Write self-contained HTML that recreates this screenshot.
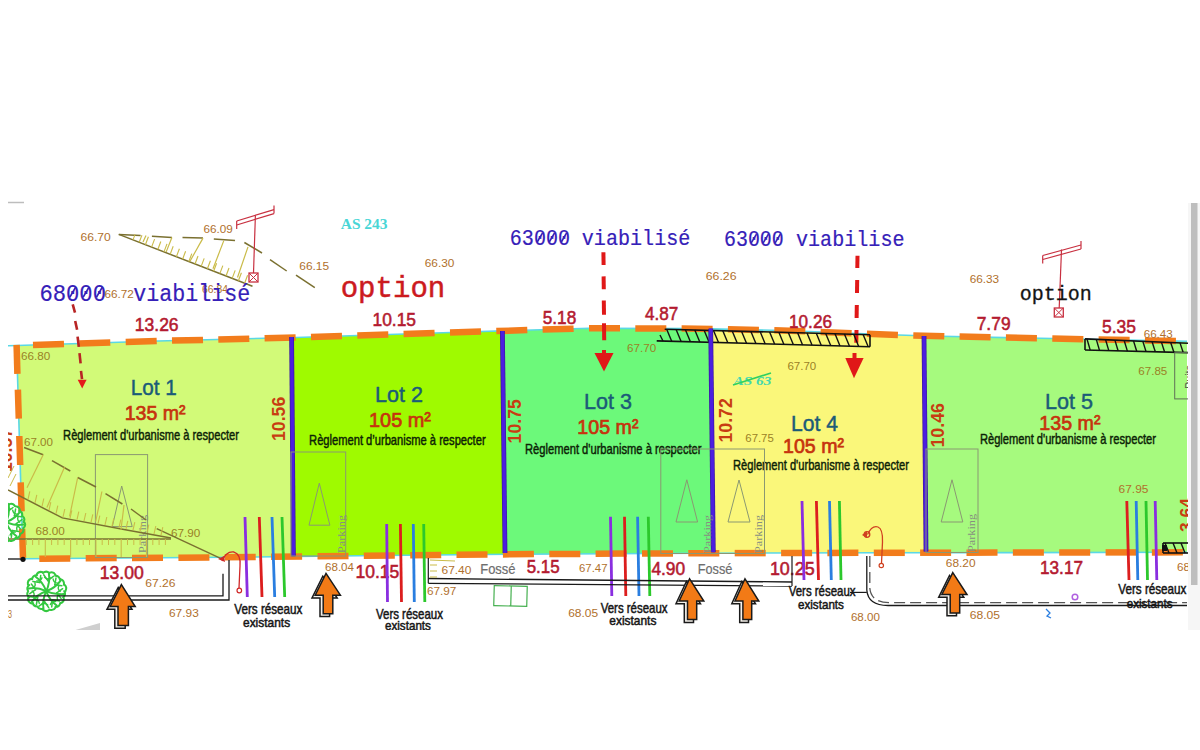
<!DOCTYPE html><html><head><meta charset="utf-8"><style>html,body{margin:0;padding:0;background:#fff;overflow:hidden}svg{display:block}</style></head><body>
<svg width="1200" height="750" viewBox="0 0 1200 750">
<rect width="1200" height="750" fill="#fff"/>
<defs><clipPath id="mc"><rect x="8" y="203" width="1180" height="427"/></clipPath></defs>
<g clip-path="url(#mc)">
<polygon points="16.6,345.5 17.0,345.5 158.0,341.0 291.6,337.6 293.4,556.5 230.0,557.3 23.0,558.8" fill="#d2fa78" />
<polygon points="291.6,337.6 296.0,337.5 466.0,332.0 502.4,330.9 505.0,554.3 380.0,555.5 293.4,556.5" fill="#9ffa00" />
<polygon points="502.4,330.9 589.0,328.2 700.0,328.6 710.7,328.8 713.3,553.2 700.0,553.2 520.0,554.2 505.0,554.3" fill="#6cf97a" />
<polygon points="710.7,328.8 790.0,330.7 883.0,334.5 924.0,335.8 926.0,552.7 880.0,552.8 713.3,553.2" fill="#faf77a" />
<polygon points="924.0,335.8 929.0,336.0 1187.0,341.3 1187.0,552.3 926.0,552.7" fill="#a6fa7e" />
<polyline points="8.0,345.8 17.0,345.5 158.0,341.0 296.0,337.5 466.0,332.0 589.0,328.2 700.0,328.6 790.0,330.7 883.0,334.5 929.0,336.0 1187.0,341.3" fill="none" stroke="#5ad8e6" stroke-width="1.6" />
<polyline points="23.0,558.8 230.0,557.3 380.0,555.5 520.0,554.2 700.0,553.2 880.0,552.8 1187.0,552.3" fill="none" stroke="#5ad8e6" stroke-width="1.6" />
<line x1="16.6" y1="345.5" x2="23.0" y2="558.8" stroke="#5ad8e6" stroke-width="1.6" />
<line x1="33.0" y1="345.0" x2="64.0" y2="344.0" stroke="#f27c1c" stroke-width="6.5" />
<line x1="79.3" y1="343.5" x2="110.3" y2="342.5" stroke="#f27c1c" stroke-width="6.5" />
<line x1="125.7" y1="342.0" x2="156.7" y2="341.0" stroke="#f27c1c" stroke-width="6.5" />
<line x1="172.0" y1="340.6" x2="203.0" y2="339.9" stroke="#f27c1c" stroke-width="6.5" />
<line x1="218.3" y1="339.5" x2="249.3" y2="338.7" stroke="#f27c1c" stroke-width="6.5" />
<line x1="264.6" y1="338.3" x2="295.6" y2="337.5" stroke="#f27c1c" stroke-width="6.5" />
<line x1="311.0" y1="337.0" x2="342.0" y2="336.0" stroke="#f27c1c" stroke-width="6.5" />
<line x1="357.3" y1="335.5" x2="388.3" y2="334.5" stroke="#f27c1c" stroke-width="6.5" />
<line x1="403.6" y1="334.0" x2="434.6" y2="333.0" stroke="#f27c1c" stroke-width="6.5" />
<line x1="450.0" y1="332.5" x2="481.0" y2="331.5" stroke="#f27c1c" stroke-width="6.5" />
<line x1="496.3" y1="331.1" x2="527.3" y2="330.1" stroke="#f27c1c" stroke-width="6.5" />
<line x1="542.6" y1="329.6" x2="573.6" y2="328.7" stroke="#f27c1c" stroke-width="6.5" />
<line x1="589.0" y1="328.2" x2="620.0" y2="328.3" stroke="#f27c1c" stroke-width="6.5" />
<line x1="635.3" y1="328.4" x2="666.3" y2="328.5" stroke="#f27c1c" stroke-width="6.5" />
<line x1="681.6" y1="328.5" x2="712.6" y2="328.9" stroke="#f27c1c" stroke-width="6.5" />
<line x1="727.9" y1="329.3" x2="758.9" y2="330.0" stroke="#f27c1c" stroke-width="6.5" />
<line x1="774.3" y1="330.3" x2="805.3" y2="331.3" stroke="#f27c1c" stroke-width="6.5" />
<line x1="820.6" y1="332.0" x2="851.6" y2="333.2" stroke="#f27c1c" stroke-width="6.5" />
<line x1="866.9" y1="333.8" x2="897.9" y2="335.0" stroke="#f27c1c" stroke-width="6.5" />
<line x1="913.3" y1="335.5" x2="944.3" y2="336.3" stroke="#f27c1c" stroke-width="6.5" />
<line x1="959.6" y1="336.6" x2="990.6" y2="337.3" stroke="#f27c1c" stroke-width="6.5" />
<line x1="1005.9" y1="337.6" x2="1036.9" y2="338.2" stroke="#f27c1c" stroke-width="6.5" />
<line x1="1052.3" y1="338.5" x2="1083.3" y2="339.2" stroke="#f27c1c" stroke-width="6.5" />
<line x1="1098.6" y1="339.5" x2="1129.6" y2="340.1" stroke="#f27c1c" stroke-width="6.5" />
<line x1="1144.9" y1="340.4" x2="1175.9" y2="341.1" stroke="#f27c1c" stroke-width="6.5" />
<line x1="39.3" y1="558.7" x2="70.3" y2="558.5" stroke="#f27c1c" stroke-width="6.5" />
<line x1="85.7" y1="558.3" x2="116.7" y2="558.1" stroke="#f27c1c" stroke-width="6.5" />
<line x1="132.0" y1="558.0" x2="163.0" y2="557.8" stroke="#f27c1c" stroke-width="6.5" />
<line x1="178.4" y1="557.7" x2="209.4" y2="557.4" stroke="#f27c1c" stroke-width="6.5" />
<line x1="224.7" y1="557.3" x2="255.7" y2="557.0" stroke="#f27c1c" stroke-width="6.5" />
<line x1="271.1" y1="556.8" x2="302.1" y2="556.4" stroke="#f27c1c" stroke-width="6.5" />
<line x1="317.5" y1="556.3" x2="348.5" y2="555.9" stroke="#f27c1c" stroke-width="6.5" />
<line x1="363.8" y1="555.7" x2="394.8" y2="555.4" stroke="#f27c1c" stroke-width="6.5" />
<line x1="410.2" y1="555.2" x2="441.2" y2="554.9" stroke="#f27c1c" stroke-width="6.5" />
<line x1="456.5" y1="554.8" x2="487.5" y2="554.5" stroke="#f27c1c" stroke-width="6.5" />
<line x1="502.9" y1="554.4" x2="533.9" y2="554.1" stroke="#f27c1c" stroke-width="6.5" />
<line x1="549.3" y1="554.0" x2="580.3" y2="553.9" stroke="#f27c1c" stroke-width="6.5" />
<line x1="595.6" y1="553.8" x2="626.6" y2="553.6" stroke="#f27c1c" stroke-width="6.5" />
<line x1="642.0" y1="553.5" x2="673.0" y2="553.4" stroke="#f27c1c" stroke-width="6.5" />
<line x1="688.3" y1="553.3" x2="719.3" y2="553.2" stroke="#f27c1c" stroke-width="6.5" />
<line x1="734.7" y1="553.1" x2="765.7" y2="553.1" stroke="#f27c1c" stroke-width="6.5" />
<line x1="781.1" y1="553.0" x2="812.1" y2="553.0" stroke="#f27c1c" stroke-width="6.5" />
<line x1="827.4" y1="552.9" x2="858.4" y2="552.8" stroke="#f27c1c" stroke-width="6.5" />
<line x1="873.8" y1="552.8" x2="904.8" y2="552.8" stroke="#f27c1c" stroke-width="6.5" />
<line x1="920.1" y1="552.7" x2="951.1" y2="552.7" stroke="#f27c1c" stroke-width="6.5" />
<line x1="966.5" y1="552.7" x2="997.5" y2="552.6" stroke="#f27c1c" stroke-width="6.5" />
<line x1="1012.9" y1="552.6" x2="1043.9" y2="552.5" stroke="#f27c1c" stroke-width="6.5" />
<line x1="1059.2" y1="552.5" x2="1090.2" y2="552.5" stroke="#f27c1c" stroke-width="6.5" />
<line x1="1105.6" y1="552.4" x2="1136.6" y2="552.4" stroke="#f27c1c" stroke-width="6.5" />
<line x1="1151.9" y1="552.4" x2="1182.9" y2="552.3" stroke="#f27c1c" stroke-width="6.5" />
<line x1="16.6" y1="344.8" x2="17.4" y2="373.8" stroke="#f27c1c" stroke-width="6.5" />
<line x1="17.9" y1="389.6" x2="18.8" y2="418.6" stroke="#f27c1c" stroke-width="6.5" />
<line x1="19.3" y1="436.0" x2="20.2" y2="465.0" stroke="#f27c1c" stroke-width="6.5" />
<line x1="20.7" y1="482.4" x2="21.6" y2="511.4" stroke="#f27c1c" stroke-width="6.5" />
<line x1="22.1" y1="528.8" x2="23.0" y2="557.8" stroke="#f27c1c" stroke-width="6.5" />
<line x1="8.0" y1="559.0" x2="23.0" y2="559.0" stroke="#111" stroke-width="1.3" />
<circle cx="23" cy="559.3" r="2.6" fill="#111"/>
<text x="130.70" y="395.20" font-family='"Liberation Sans", sans-serif' font-size="22.30" font-weight="normal" fill="#1b5b78" stroke="#1b5b78" stroke-width="0.45" textLength="46.00" lengthAdjust="spacingAndGlyphs">Lot 1</text>
<text x="124.70" y="420.30" font-family='"Liberation Sans", sans-serif' font-size="20.90" font-weight="normal" fill="#c6330e" stroke="#c6330e" stroke-width="0.7" textLength="60.90" lengthAdjust="spacingAndGlyphs">135 m²</text>
<text x="63.10" y="439.75" font-family='"Liberation Sans", sans-serif' font-size="14.60" font-weight="normal" fill="#0c2206" stroke="#0c2206" stroke-width="0.45" textLength="175.90" lengthAdjust="spacingAndGlyphs">Règlement d'urbanisme à respecter</text>
<text x="375.00" y="402.00" font-family='"Liberation Sans", sans-serif' font-size="22.30" font-weight="normal" fill="#1b5b78" stroke="#1b5b78" stroke-width="0.45" textLength="47.90" lengthAdjust="spacingAndGlyphs">Lot 2</text>
<text x="369.00" y="426.70" font-family='"Liberation Sans", sans-serif' font-size="20.90" font-weight="normal" fill="#c6330e" stroke="#c6330e" stroke-width="0.7" textLength="62.00" lengthAdjust="spacingAndGlyphs">105 m²</text>
<text x="309.10" y="445.40" font-family='"Liberation Sans", sans-serif' font-size="14.60" font-weight="normal" fill="#0c2206" stroke="#0c2206" stroke-width="0.45" textLength="176.50" lengthAdjust="spacingAndGlyphs">Règlement d’urbanisme à respecter</text>
<text x="584.00" y="409.30" font-family='"Liberation Sans", sans-serif' font-size="22.30" font-weight="normal" fill="#1b5b78" stroke="#1b5b78" stroke-width="0.45" textLength="47.90" lengthAdjust="spacingAndGlyphs">Lot 3</text>
<text x="577.30" y="434.30" font-family='"Liberation Sans", sans-serif' font-size="20.90" font-weight="normal" fill="#c6330e" stroke="#c6330e" stroke-width="0.7" textLength="61.20" lengthAdjust="spacingAndGlyphs">105 m²</text>
<text x="525.00" y="453.75" font-family='"Liberation Sans", sans-serif' font-size="14.60" font-weight="normal" fill="#0c2206" stroke="#0c2206" stroke-width="0.45" textLength="176.50" lengthAdjust="spacingAndGlyphs">Règlement d'urbanisme à respecter</text>
<text x="791.00" y="431.30" font-family='"Liberation Sans", sans-serif' font-size="22.30" font-weight="normal" fill="#1b5b78" stroke="#1b5b78" stroke-width="0.45" textLength="46.90" lengthAdjust="spacingAndGlyphs">Lot 4</text>
<text x="783.00" y="452.70" font-family='"Liberation Sans", sans-serif' font-size="20.90" font-weight="normal" fill="#c6330e" stroke="#c6330e" stroke-width="0.7" textLength="61.00" lengthAdjust="spacingAndGlyphs">105 m²</text>
<text x="733.00" y="469.75" font-family='"Liberation Sans", sans-serif' font-size="14.60" font-weight="normal" fill="#0c2206" stroke="#0c2206" stroke-width="0.45" textLength="176.00" lengthAdjust="spacingAndGlyphs">Règlement d'urbanisme à respecter</text>
<text x="1045.00" y="409.30" font-family='"Liberation Sans", sans-serif' font-size="22.30" font-weight="normal" fill="#1b5b78" stroke="#1b5b78" stroke-width="0.45" textLength="48.00" lengthAdjust="spacingAndGlyphs">Lot 5</text>
<text x="1039.30" y="430.00" font-family='"Liberation Sans", sans-serif' font-size="20.90" font-weight="normal" fill="#c6330e" stroke="#c6330e" stroke-width="0.7" textLength="61.20" lengthAdjust="spacingAndGlyphs">135 m²</text>
<text x="979.90" y="444.00" font-family='"Liberation Sans", sans-serif' font-size="14.60" font-weight="normal" fill="#0c2206" stroke="#0c2206" stroke-width="0.45" textLength="176.05" lengthAdjust="spacingAndGlyphs">Règlement d'urbanisme à respecter</text>
<text x="134.80" y="331.10" font-family='"Liberation Sans", sans-serif' font-size="18.20" font-weight="normal" fill="#b41a30" stroke="#b41a30" stroke-width="0.55" textLength="43.80" lengthAdjust="spacingAndGlyphs">13.26</text>
<text x="372.50" y="326.00" font-family='"Liberation Sans", sans-serif' font-size="18.20" font-weight="normal" fill="#b41a30" stroke="#b41a30" stroke-width="0.55" textLength="43.50" lengthAdjust="spacingAndGlyphs">10.15</text>
<text x="542.75" y="324.10" font-family='"Liberation Sans", sans-serif' font-size="18.20" font-weight="normal" fill="#b41a30" stroke="#b41a30" stroke-width="0.55" textLength="33.50" lengthAdjust="spacingAndGlyphs">5.18</text>
<text x="645.00" y="320.40" font-family='"Liberation Sans", sans-serif' font-size="18.20" font-weight="normal" fill="#b41a30" stroke="#b41a30" stroke-width="0.55" textLength="33.30" lengthAdjust="spacingAndGlyphs">4.87</text>
<text x="789.00" y="327.70" font-family='"Liberation Sans", sans-serif' font-size="18.20" font-weight="normal" fill="#b41a30" stroke="#b41a30" stroke-width="0.55" textLength="43.00" lengthAdjust="spacingAndGlyphs">10.26</text>
<text x="976.70" y="329.70" font-family='"Liberation Sans", sans-serif' font-size="18.20" font-weight="normal" fill="#b41a30" stroke="#b41a30" stroke-width="0.55" textLength="33.90" lengthAdjust="spacingAndGlyphs">7.79</text>
<text x="1102.00" y="333.00" font-family='"Liberation Sans", sans-serif' font-size="18.20" font-weight="normal" fill="#b41a30" stroke="#b41a30" stroke-width="0.55" textLength="33.90" lengthAdjust="spacingAndGlyphs">5.35</text>
<text x="99.75" y="579.00" font-family='"Liberation Sans", sans-serif' font-size="18.20" font-weight="normal" fill="#b41a30" stroke="#b41a30" stroke-width="0.55" textLength="44.00" lengthAdjust="spacingAndGlyphs">13.00</text>
<text x="355.50" y="578.25" font-family='"Liberation Sans", sans-serif' font-size="18.20" font-weight="normal" fill="#b41a30" stroke="#b41a30" stroke-width="0.55" textLength="43.75" lengthAdjust="spacingAndGlyphs">10.15</text>
<text x="526.70" y="573.30" font-family='"Liberation Sans", sans-serif' font-size="18.20" font-weight="normal" fill="#b41a30" stroke="#b41a30" stroke-width="0.55" textLength="33.00" lengthAdjust="spacingAndGlyphs">5.15</text>
<text x="651.40" y="574.60" font-family='"Liberation Sans", sans-serif' font-size="18.20" font-weight="normal" fill="#b41a30" stroke="#b41a30" stroke-width="0.55" textLength="33.80" lengthAdjust="spacingAndGlyphs">4.90</text>
<text x="769.90" y="574.60" font-family='"Liberation Sans", sans-serif' font-size="18.20" font-weight="normal" fill="#b41a30" stroke="#b41a30" stroke-width="0.55" textLength="44.80" lengthAdjust="spacingAndGlyphs">10.25</text>
<text x="1040.00" y="574.00" font-family='"Liberation Sans", sans-serif' font-size="18.20" font-weight="normal" fill="#b41a30" stroke="#b41a30" stroke-width="0.55" textLength="43.00" lengthAdjust="spacingAndGlyphs">13.17</text>
<g transform="translate(285.20,441.00) rotate(-90)">
<text x="0.00" y="0.00" font-family='"Liberation Sans", sans-serif' font-size="19.00" font-weight="bold" fill="#c83c12" textLength="44.20" lengthAdjust="spacingAndGlyphs">10.56</text>
</g>
<g transform="translate(520.60,443.40) rotate(-90)">
<text x="0.00" y="0.00" font-family='"Liberation Sans", sans-serif' font-size="19.00" font-weight="bold" fill="#c83c12" textLength="44.20" lengthAdjust="spacingAndGlyphs">10.75</text>
</g>
<g transform="translate(731.80,442.60) rotate(-90)">
<text x="0.00" y="0.00" font-family='"Liberation Sans", sans-serif' font-size="19.00" font-weight="bold" fill="#c83c12" textLength="44.40" lengthAdjust="spacingAndGlyphs">10.72</text>
</g>
<g transform="translate(944.40,447.60) rotate(-90)">
<text x="0.00" y="0.00" font-family='"Liberation Sans", sans-serif' font-size="19.00" font-weight="bold" fill="#c83c12" textLength="44.60" lengthAdjust="spacingAndGlyphs">10.46</text>
</g>
<text x="80.50" y="240.50" font-family='"Liberation Sans", sans-serif' font-size="11.30" font-weight="normal" fill="#b0702c" textLength="30.30" lengthAdjust="spacingAndGlyphs">66.70</text>
<text x="203.40" y="233.00" font-family='"Liberation Sans", sans-serif' font-size="11.30" font-weight="normal" fill="#b0702c" textLength="29.30" lengthAdjust="spacingAndGlyphs">66.09</text>
<text x="299.30" y="270.20" font-family='"Liberation Sans", sans-serif' font-size="11.30" font-weight="normal" fill="#b0702c" textLength="29.80" lengthAdjust="spacingAndGlyphs">66.15</text>
<text x="424.80" y="267.00" font-family='"Liberation Sans", sans-serif' font-size="11.30" font-weight="normal" fill="#b0702c" textLength="29.60" lengthAdjust="spacingAndGlyphs">66.30</text>
<text x="104.40" y="298.00" font-family='"Liberation Sans", sans-serif' font-size="11.30" font-weight="normal" fill="#b0702c" textLength="29.30" lengthAdjust="spacingAndGlyphs">66.72</text>
<text x="202.00" y="293.00" font-family='"Liberation Sans", sans-serif' font-size="11.30" font-weight="normal" fill="#b0702c" textLength="26.00" lengthAdjust="spacingAndGlyphs">66.84</text>
<text x="21.00" y="360.00" font-family='"Liberation Sans", sans-serif' font-size="11.30" font-weight="normal" fill="#9a8226" textLength="29.20" lengthAdjust="spacingAndGlyphs">66.80</text>
<text x="705.80" y="279.60" font-family='"Liberation Sans", sans-serif' font-size="11.30" font-weight="normal" fill="#b0702c" textLength="30.70" lengthAdjust="spacingAndGlyphs">66.26</text>
<text x="627.00" y="352.00" font-family='"Liberation Sans", sans-serif' font-size="11.30" font-weight="normal" fill="#9a8226" textLength="29.20" lengthAdjust="spacingAndGlyphs">67.70</text>
<text x="787.40" y="369.50" font-family='"Liberation Sans", sans-serif' font-size="11.30" font-weight="normal" fill="#9a8226" textLength="28.80" lengthAdjust="spacingAndGlyphs">67.70</text>
<text x="969.70" y="283.00" font-family='"Liberation Sans", sans-serif' font-size="11.30" font-weight="normal" fill="#b0702c" textLength="29.50" lengthAdjust="spacingAndGlyphs">66.33</text>
<text x="1143.70" y="337.60" font-family='"Liberation Sans", sans-serif' font-size="11.30" font-weight="normal" fill="#b0702c" textLength="29.00" lengthAdjust="spacingAndGlyphs">66.43</text>
<text x="1138.30" y="374.70" font-family='"Liberation Sans", sans-serif' font-size="11.30" font-weight="normal" fill="#9a8226" textLength="29.00" lengthAdjust="spacingAndGlyphs">67.85</text>
<text x="24.00" y="446.30" font-family='"Liberation Sans", sans-serif' font-size="11.30" font-weight="normal" fill="#9a8226" textLength="29.00" lengthAdjust="spacingAndGlyphs">67.00</text>
<text x="35.50" y="534.90" font-family='"Liberation Sans", sans-serif' font-size="11.30" font-weight="normal" fill="#9a8226" textLength="29.30" lengthAdjust="spacingAndGlyphs">68.00</text>
<text x="170.90" y="537.00" font-family='"Liberation Sans", sans-serif' font-size="11.30" font-weight="normal" fill="#9a8226" textLength="29.30" lengthAdjust="spacingAndGlyphs">67.90</text>
<text x="745.30" y="442.20" font-family='"Liberation Sans", sans-serif' font-size="11.30" font-weight="normal" fill="#9a8226" textLength="28.50" lengthAdjust="spacingAndGlyphs">67.75</text>
<text x="145.25" y="587.25" font-family='"Liberation Sans", sans-serif' font-size="11.30" font-weight="normal" fill="#b0702c" textLength="30.25" lengthAdjust="spacingAndGlyphs">67.26</text>
<text x="169.00" y="616.75" font-family='"Liberation Sans", sans-serif' font-size="11.30" font-weight="normal" fill="#b0702c" textLength="29.75" lengthAdjust="spacingAndGlyphs">67.93</text>
<text x="325.00" y="570.70" font-family='"Liberation Sans", sans-serif' font-size="11.30" font-weight="normal" fill="#b0702c" textLength="29.00" lengthAdjust="spacingAndGlyphs">68.04</text>
<text x="441.50" y="573.80" font-family='"Liberation Sans", sans-serif' font-size="11.30" font-weight="normal" fill="#b0702c" textLength="29.90" lengthAdjust="spacingAndGlyphs">67.40</text>
<text x="427.00" y="594.70" font-family='"Liberation Sans", sans-serif' font-size="11.30" font-weight="normal" fill="#b0702c" textLength="29.40" lengthAdjust="spacingAndGlyphs">67.97</text>
<text x="579.00" y="571.70" font-family='"Liberation Sans", sans-serif' font-size="11.30" font-weight="normal" fill="#b0702c" textLength="28.50" lengthAdjust="spacingAndGlyphs">67.47</text>
<text x="568.20" y="617.20" font-family='"Liberation Sans", sans-serif' font-size="11.30" font-weight="normal" fill="#b0702c" textLength="29.90" lengthAdjust="spacingAndGlyphs">68.05</text>
<text x="850.90" y="621.00" font-family='"Liberation Sans", sans-serif' font-size="11.30" font-weight="normal" fill="#b0702c" textLength="29.00" lengthAdjust="spacingAndGlyphs">68.00</text>
<text x="945.80" y="567.40" font-family='"Liberation Sans", sans-serif' font-size="11.30" font-weight="normal" fill="#b0702c" textLength="29.70" lengthAdjust="spacingAndGlyphs">68.20</text>
<text x="969.70" y="618.60" font-family='"Liberation Sans", sans-serif' font-size="11.30" font-weight="normal" fill="#b0702c" textLength="30.40" lengthAdjust="spacingAndGlyphs">68.05</text>
<text x="1118.60" y="493.30" font-family='"Liberation Sans", sans-serif' font-size="11.30" font-weight="normal" fill="#b0702c" textLength="29.80" lengthAdjust="spacingAndGlyphs">67.95</text>
<g transform="translate(11.5,472) rotate(-90)">
<text x="0.0" y="0.0" font-family='"Liberation Sans", sans-serif' font-size="19.0" fill="#c83c12" font-weight="bold" textLength="44.0" lengthAdjust="spacingAndGlyphs" >10.57</text>
</g>
<g transform="translate(1193,532) rotate(-90)">
<text x="0.0" y="0.0" font-family='"Liberation Sans", sans-serif' font-size="19.0" fill="#c83c12" font-weight="bold" textLength="34.0" lengthAdjust="spacingAndGlyphs" >3.64</text>
</g>
<text x="1177.0" y="570.7" font-family='"Liberation Sans", sans-serif' font-size="11.3" fill="#b46e28" font-weight="normal" textLength="13.0" lengthAdjust="spacingAndGlyphs" >68</text>
<text x="8.0" y="617.5" font-family='"Liberation Sans", sans-serif' font-size="11.3" fill="#b46e28" font-weight="normal" textLength="4.0" lengthAdjust="spacingAndGlyphs" >3</text>
<line x1="245.0" y1="517.0" x2="247.3" y2="597.0" stroke="#8a2ee0" stroke-width="2.8" />
<line x1="259.3" y1="517.0" x2="262.0" y2="597.0" stroke="#dc1e1e" stroke-width="2.8" />
<line x1="272.0" y1="517.0" x2="274.7" y2="597.0" stroke="#2a7ee0" stroke-width="2.8" />
<line x1="282.0" y1="517.0" x2="284.7" y2="597.0" stroke="#2cc82c" stroke-width="2.8" />
<line x1="386.7" y1="524.0" x2="387.5" y2="602.0" stroke="#8a2ee0" stroke-width="2.8" />
<line x1="400.4" y1="524.0" x2="401.5" y2="602.0" stroke="#dc1e1e" stroke-width="2.8" />
<line x1="413.3" y1="524.0" x2="414.3" y2="602.0" stroke="#2a7ee0" stroke-width="2.8" />
<line x1="423.7" y1="524.0" x2="424.8" y2="602.0" stroke="#2cc82c" stroke-width="2.8" />
<line x1="610.5" y1="516.8" x2="611.8" y2="596.0" stroke="#8a2ee0" stroke-width="2.8" />
<line x1="624.5" y1="516.8" x2="625.8" y2="596.0" stroke="#dc1e1e" stroke-width="2.8" />
<line x1="637.6" y1="516.8" x2="639.0" y2="596.0" stroke="#2a7ee0" stroke-width="2.8" />
<line x1="648.3" y1="516.8" x2="649.8" y2="596.0" stroke="#2cc82c" stroke-width="2.8" />
<line x1="802.0" y1="501.0" x2="804.0" y2="580.0" stroke="#8a2ee0" stroke-width="2.8" />
<line x1="816.4" y1="501.0" x2="818.5" y2="580.0" stroke="#dc1e1e" stroke-width="2.8" />
<line x1="829.5" y1="501.0" x2="831.3" y2="580.0" stroke="#2a7ee0" stroke-width="2.8" />
<line x1="839.4" y1="501.0" x2="841.0" y2="580.0" stroke="#2cc82c" stroke-width="2.8" />
<line x1="1126.8" y1="501.0" x2="1129.0" y2="580.0" stroke="#dc1e1e" stroke-width="2.8" />
<line x1="1136.2" y1="501.0" x2="1137.8" y2="580.0" stroke="#2a7ee0" stroke-width="2.8" />
<line x1="1146.0" y1="501.0" x2="1147.5" y2="580.0" stroke="#2cc82c" stroke-width="2.8" />
<line x1="1155.2" y1="501.0" x2="1156.8" y2="580.0" stroke="#8a2ee0" stroke-width="2.8" />
<line x1="603.4" y1="252.3" x2="603.6" y2="265.0" stroke="#e01818" stroke-width="4" />
<line x1="603.6" y1="276.4" x2="603.8" y2="289.2" stroke="#e01818" stroke-width="4" />
<line x1="603.8" y1="300.5" x2="604.0" y2="314.7" stroke="#e01818" stroke-width="4" />
<line x1="604.0" y1="323.2" x2="604.2" y2="340.2" stroke="#e01818" stroke-width="4" />
<polygon points="594.5,353.0 613.5,353.0 604.0,371.5" fill="#e01818" />
<line x1="604.0" y1="350.0" x2="604.0" y2="356.0" stroke="#e01818" stroke-width="4" />
<line x1="857.5" y1="255.7" x2="857.3" y2="268.0" stroke="#e01818" stroke-width="4" />
<line x1="857.2" y1="280.0" x2="857.0" y2="293.0" stroke="#e01818" stroke-width="4" />
<line x1="856.8" y1="305.0" x2="856.6" y2="318.0" stroke="#e01818" stroke-width="4" />
<line x1="856.5" y1="330.0" x2="856.3" y2="342.7" stroke="#e01818" stroke-width="4" />
<polygon points="845.3,358.0 863.6,358.0 854.0,378.3" fill="#e01818" />
<line x1="854.5" y1="353.0" x2="854.5" y2="360.0" stroke="#e01818" stroke-width="4" />
<line x1="72.7" y1="304.4" x2="75.0" y2="312.7" stroke="#b82424" stroke-width="2.6" />
<line x1="75.2" y1="320.9" x2="77.1" y2="329.7" stroke="#b82424" stroke-width="2.6" />
<line x1="77.6" y1="336.7" x2="78.8" y2="346.8" stroke="#b82424" stroke-width="2.6" />
<line x1="79.5" y1="353.2" x2="80.6" y2="363.3" stroke="#b82424" stroke-width="2.6" />
<line x1="81.0" y1="370.9" x2="82.0" y2="379.1" stroke="#b82424" stroke-width="2.6" />
<polygon points="77.7,379.7 86.6,379.7 82.2,388.6" fill="#e41a1a" />
<line x1="664.7" y1="329.2" x2="870.0" y2="334.7" stroke="#111" stroke-width="1.6" />
<line x1="656.7" y1="340.9" x2="870.0" y2="346.7" stroke="#111" stroke-width="1.6" />
<line x1="870.0" y1="334.7" x2="870.0" y2="346.7" stroke="#111" stroke-width="1.6" />
<line x1="666.7" y1="329.3" x2="671.7" y2="341.3" stroke="#111" stroke-width="1.4" />
<line x1="676.1" y1="329.5" x2="681.1" y2="341.6" stroke="#111" stroke-width="1.4" />
<line x1="685.4" y1="329.8" x2="690.4" y2="341.8" stroke="#111" stroke-width="1.4" />
<line x1="694.8" y1="330.0" x2="699.8" y2="342.1" stroke="#111" stroke-width="1.4" />
<line x1="704.1" y1="330.3" x2="709.1" y2="342.3" stroke="#111" stroke-width="1.4" />
<line x1="713.5" y1="330.5" x2="718.5" y2="342.6" stroke="#111" stroke-width="1.4" />
<line x1="722.8" y1="330.8" x2="727.8" y2="342.8" stroke="#111" stroke-width="1.4" />
<line x1="732.2" y1="331.0" x2="737.2" y2="343.1" stroke="#111" stroke-width="1.4" />
<line x1="741.5" y1="331.3" x2="746.5" y2="343.3" stroke="#111" stroke-width="1.4" />
<line x1="750.9" y1="331.5" x2="755.9" y2="343.6" stroke="#111" stroke-width="1.4" />
<line x1="760.2" y1="331.8" x2="765.2" y2="343.9" stroke="#111" stroke-width="1.4" />
<line x1="769.6" y1="332.0" x2="774.6" y2="344.1" stroke="#111" stroke-width="1.4" />
<line x1="778.9" y1="332.3" x2="783.9" y2="344.4" stroke="#111" stroke-width="1.4" />
<line x1="788.3" y1="332.5" x2="793.3" y2="344.6" stroke="#111" stroke-width="1.4" />
<line x1="797.6" y1="332.8" x2="802.6" y2="344.9" stroke="#111" stroke-width="1.4" />
<line x1="807.0" y1="333.0" x2="812.0" y2="345.1" stroke="#111" stroke-width="1.4" />
<line x1="816.3" y1="333.3" x2="821.3" y2="345.4" stroke="#111" stroke-width="1.4" />
<line x1="825.7" y1="333.5" x2="830.7" y2="345.6" stroke="#111" stroke-width="1.4" />
<line x1="835.0" y1="333.8" x2="840.0" y2="345.9" stroke="#111" stroke-width="1.4" />
<line x1="844.4" y1="334.0" x2="849.4" y2="346.1" stroke="#111" stroke-width="1.4" />
<line x1="853.7" y1="334.3" x2="858.7" y2="346.4" stroke="#111" stroke-width="1.4" />
<line x1="863.1" y1="334.5" x2="868.1" y2="346.6" stroke="#111" stroke-width="1.4" />
<line x1="660.0" y1="335.0" x2="663.0" y2="341.0" stroke="#111" stroke-width="1.4" />
<line x1="1085.0" y1="338.9" x2="1188.0" y2="343.2" stroke="#111" stroke-width="1.6" />
<line x1="1085.0" y1="350.0" x2="1188.0" y2="352.6" stroke="#111" stroke-width="1.6" />
<line x1="1085.0" y1="338.9" x2="1085.0" y2="350.0" stroke="#111" stroke-width="1.6" />
<line x1="1087.0" y1="339.0" x2="1090.2" y2="350.1" stroke="#111" stroke-width="1.4" />
<line x1="1096.3" y1="339.4" x2="1099.5" y2="350.4" stroke="#111" stroke-width="1.4" />
<line x1="1105.6" y1="339.8" x2="1108.8" y2="350.6" stroke="#111" stroke-width="1.4" />
<line x1="1114.9" y1="340.1" x2="1118.1" y2="350.8" stroke="#111" stroke-width="1.4" />
<line x1="1124.2" y1="340.5" x2="1127.4" y2="351.1" stroke="#111" stroke-width="1.4" />
<line x1="1133.5" y1="340.9" x2="1136.7" y2="351.3" stroke="#111" stroke-width="1.4" />
<line x1="1142.8" y1="341.3" x2="1146.0" y2="351.5" stroke="#111" stroke-width="1.4" />
<line x1="1152.1" y1="341.7" x2="1155.3" y2="351.8" stroke="#111" stroke-width="1.4" />
<line x1="1161.4" y1="342.1" x2="1164.6" y2="352.0" stroke="#111" stroke-width="1.4" />
<line x1="1170.7" y1="342.5" x2="1173.9" y2="352.2" stroke="#111" stroke-width="1.4" />
<line x1="1180.0" y1="342.9" x2="1183.2" y2="352.5" stroke="#111" stroke-width="1.4" />
<line x1="1163.0" y1="543.0" x2="1190.0" y2="543.0" stroke="#111" stroke-width="1.6" />
<line x1="1163.0" y1="553.0" x2="1190.0" y2="553.0" stroke="#111" stroke-width="1.6" />
<line x1="1190.0" y1="543.0" x2="1190.0" y2="553.0" stroke="#111" stroke-width="1.6" />
<line x1="1163.0" y1="543.0" x2="1163.0" y2="553.0" stroke="#111" stroke-width="1.6" />
<line x1="1165.0" y1="543.0" x2="1169.0" y2="553.0" stroke="#111" stroke-width="1.4" />
<line x1="1173.0" y1="543.0" x2="1177.0" y2="553.0" stroke="#111" stroke-width="1.4" />
<line x1="1181.0" y1="543.0" x2="1185.0" y2="553.0" stroke="#111" stroke-width="1.4" />
<rect x="1162" y="545" width="5" height="6" fill="#111"/>
<line x1="291.6" y1="337.0" x2="293.4" y2="556.3" stroke="#3a18a0" stroke-width="4.8" />
<line x1="291.6" y1="337.0" x2="293.4" y2="556.3" stroke="#4c1ee0" stroke-width="3.4" />
<line x1="502.4" y1="331.0" x2="505.0" y2="553.0" stroke="#3a18a0" stroke-width="4.8" />
<line x1="502.4" y1="331.0" x2="505.0" y2="553.0" stroke="#4c1ee0" stroke-width="3.4" />
<line x1="710.7" y1="328.6" x2="713.3" y2="552.2" stroke="#3a18a0" stroke-width="4.8" />
<line x1="710.7" y1="328.6" x2="713.3" y2="552.2" stroke="#4c1ee0" stroke-width="3.4" />
<line x1="924.0" y1="336.0" x2="926.0" y2="551.5" stroke="#3a18a0" stroke-width="4.8" />
<line x1="924.0" y1="336.0" x2="926.0" y2="551.5" stroke="#4c1ee0" stroke-width="3.4" />
<rect x="95.4" y="454.6" width="52.2" height="102.9" fill="none" stroke="#8a9872" stroke-width="1"/>
<polygon points="121.7,486.0 112.3,526.6 132.2,526.6" fill="none" stroke="#8a9872" stroke-width="1"/>
<g transform="translate(146.0,553.0) rotate(-90)">
<text x="0.0" y="0.0" font-family='"Liberation Serif", serif' font-size="11.0" fill="#878f80" font-weight="normal" textLength="38.0" lengthAdjust="spacingAndGlyphs" >Parking</text>
</g>
<rect x="291.0" y="452.0" width="54.7" height="104.0" fill="none" stroke="#8a9872" stroke-width="1"/>
<polygon points="319.3,483.2 309.0,525.2 329.9,525.2" fill="none" stroke="#8a9872" stroke-width="1"/>
<g transform="translate(345.0,553.0) rotate(-90)">
<text x="0.0" y="0.0" font-family='"Liberation Serif", serif' font-size="11.0" fill="#878f80" font-weight="normal" textLength="38.0" lengthAdjust="spacingAndGlyphs" >Parking</text>
</g>
<rect x="660.8" y="449.0" width="103.7" height="104.5" fill="none" stroke="#8a9872" stroke-width="1"/>
<polygon points="686.8,479.8 676.0,522.0 697.6,522.0" fill="none" stroke="#8a9872" stroke-width="1"/>
<polygon points="739.0,480.0 728.0,522.0 750.0,522.0" fill="none" stroke="#8a9872" stroke-width="1"/>
<g transform="translate(711.0,553.0) rotate(-90)">
<text x="0.0" y="0.0" font-family='"Liberation Serif", serif' font-size="11.0" fill="#878f80" font-weight="normal" textLength="38.0" lengthAdjust="spacingAndGlyphs" >Parking</text>
</g>
<g transform="translate(761.5,553.0) rotate(-90)">
<text x="0.0" y="0.0" font-family='"Liberation Serif", serif' font-size="11.0" fill="#878f80" font-weight="normal" textLength="38.0" lengthAdjust="spacingAndGlyphs" >Parking</text>
</g>
<rect x="926.0" y="449.0" width="52.0" height="103.5" fill="none" stroke="#8a9872" stroke-width="1"/>
<polygon points="952.0,479.8 941.2,522.0 962.8,522.0" fill="none" stroke="#8a9872" stroke-width="1"/>
<g transform="translate(975.0,552.0) rotate(-90)">
<text x="0.0" y="0.0" font-family='"Liberation Serif", serif' font-size="11.0" fill="#878f80" font-weight="normal" textLength="38.0" lengthAdjust="spacingAndGlyphs" >Parking</text>
</g>
<rect x="1174.7" y="352.6" width="16" height="46.3" fill="none" stroke="#607058" stroke-width="1"/>
<g transform="translate(1193.5,389) rotate(-90)">
<text x="0.0" y="0.0" font-family='"Liberation Sans", sans-serif' font-size="13.0" fill="#5a6a50" font-weight="normal" textLength="24.0" lengthAdjust="spacingAndGlyphs" >Puits</text>
</g>
<line x1="118.8" y1="234.4" x2="252.5" y2="286.2" stroke="#7a7030" stroke-width="1.5" />
<line x1="118.8" y1="234.4" x2="140.6" y2="235.6" stroke="#7a7030" stroke-width="1.5" />
<line x1="151.9" y1="236.2" x2="171.9" y2="237.5" stroke="#7a7030" stroke-width="1.5" />
<line x1="182.5" y1="237.5" x2="203.0" y2="238.1" stroke="#7a7030" stroke-width="1.5" />
<line x1="213.8" y1="239.0" x2="235.0" y2="240.6" stroke="#7a7030" stroke-width="1.5" />
<line x1="244.4" y1="242.5" x2="262.0" y2="253.0" stroke="#7a7030" stroke-width="1.5" />
<line x1="270.0" y1="259.6" x2="286.7" y2="271.0" stroke="#7a7030" stroke-width="1.5" />
<line x1="296.0" y1="275.2" x2="314.8" y2="287.7" stroke="#7a7030" stroke-width="1.5" />
<line x1="171.9" y1="237.5" x2="166.2" y2="251.9" stroke="#cabb48" stroke-width="1.2" />
<line x1="203.0" y1="238.1" x2="190.0" y2="261.2" stroke="#cabb48" stroke-width="1.2" />
<line x1="223.8" y1="240.6" x2="213.0" y2="268.8" stroke="#cabb48" stroke-width="1.2" />
<line x1="248.0" y1="246.9" x2="237.5" y2="277.5" stroke="#cabb48" stroke-width="1.2" />
<line x1="146.0" y1="235.6" x2="143.0" y2="241.9" stroke="#cabb48" stroke-width="1.2" />
<line x1="133.0" y1="239.9" x2="135.1" y2="234.4" stroke="#cabb48" stroke-width="1.1" />
<line x1="139.2" y1="242.3" x2="141.9" y2="235.2" stroke="#cabb48" stroke-width="1.1" />
<line x1="145.4" y1="244.7" x2="148.4" y2="236.7" stroke="#cabb48" stroke-width="1.1" />
<line x1="151.6" y1="247.1" x2="154.6" y2="239.1" stroke="#cabb48" stroke-width="1.1" />
<line x1="157.8" y1="249.5" x2="160.8" y2="241.5" stroke="#cabb48" stroke-width="1.1" />
<line x1="164.0" y1="251.9" x2="167.0" y2="243.9" stroke="#cabb48" stroke-width="1.1" />
<line x1="170.2" y1="254.3" x2="173.2" y2="246.3" stroke="#cabb48" stroke-width="1.1" />
<line x1="176.4" y1="256.7" x2="179.4" y2="248.7" stroke="#cabb48" stroke-width="1.1" />
<line x1="182.6" y1="259.2" x2="185.6" y2="251.2" stroke="#cabb48" stroke-width="1.1" />
<line x1="188.8" y1="261.6" x2="191.8" y2="253.6" stroke="#cabb48" stroke-width="1.1" />
<line x1="195.0" y1="264.0" x2="198.0" y2="256.0" stroke="#cabb48" stroke-width="1.1" />
<line x1="201.2" y1="266.4" x2="204.2" y2="258.4" stroke="#cabb48" stroke-width="1.1" />
<line x1="207.4" y1="268.8" x2="210.4" y2="260.8" stroke="#cabb48" stroke-width="1.1" />
<line x1="213.6" y1="271.2" x2="216.6" y2="263.2" stroke="#cabb48" stroke-width="1.1" />
<line x1="219.8" y1="273.6" x2="222.8" y2="265.6" stroke="#cabb48" stroke-width="1.1" />
<line x1="226.0" y1="276.0" x2="229.0" y2="268.0" stroke="#cabb48" stroke-width="1.1" />
<line x1="232.2" y1="278.4" x2="235.2" y2="270.4" stroke="#cabb48" stroke-width="1.1" />
<line x1="238.4" y1="280.8" x2="241.4" y2="272.8" stroke="#cabb48" stroke-width="1.1" />
<line x1="244.6" y1="283.2" x2="247.6" y2="275.2" stroke="#cabb48" stroke-width="1.1" />
<line x1="24.1" y1="447.5" x2="43.2" y2="454.8" stroke="#7a7030" stroke-width="1.5" />
<line x1="52.0" y1="460.7" x2="70.3" y2="471.0" stroke="#7a7030" stroke-width="1.5" />
<line x1="77.7" y1="477.5" x2="96.0" y2="487.0" stroke="#7a7030" stroke-width="1.5" />
<line x1="105.5" y1="493.7" x2="122.4" y2="504.0" stroke="#7a7030" stroke-width="1.5" />
<line x1="131.0" y1="509.0" x2="146.0" y2="520.0" stroke="#7a7030" stroke-width="1.5" />
<line x1="156.7" y1="528.7" x2="222.7" y2="559.3" stroke="#7a7030" stroke-width="1.4" />
<polyline points="8.0,490.0 62.3,517.9 128.0,530.3 171.0,538.0" fill="none" stroke="#7a7030" stroke-width="1.5" />
<line x1="43.2" y1="454.8" x2="27.0" y2="487.8" stroke="#cabb48" stroke-width="1.2" />
<line x1="64.5" y1="467.3" x2="46.9" y2="507.6" stroke="#cabb48" stroke-width="1.2" />
<line x1="77.7" y1="477.5" x2="69.6" y2="516.4" stroke="#cabb48" stroke-width="1.2" />
<line x1="101.9" y1="491.5" x2="95.7" y2="521.5" stroke="#cabb48" stroke-width="1.2" />
<line x1="124.0" y1="505.0" x2="121.0" y2="529.5" stroke="#cabb48" stroke-width="1.2" />
<line x1="28.0" y1="499.3" x2="29.8" y2="491.3" stroke="#cabb48" stroke-width="1.1" />
<line x1="35.0" y1="502.9" x2="36.8" y2="494.9" stroke="#cabb48" stroke-width="1.1" />
<line x1="42.0" y1="506.5" x2="43.8" y2="498.5" stroke="#cabb48" stroke-width="1.1" />
<line x1="49.0" y1="510.1" x2="50.8" y2="502.1" stroke="#cabb48" stroke-width="1.1" />
<line x1="56.0" y1="513.7" x2="57.8" y2="505.7" stroke="#cabb48" stroke-width="1.1" />
<line x1="63.0" y1="517.0" x2="64.8" y2="509.0" stroke="#cabb48" stroke-width="1.1" />
<line x1="70.0" y1="518.4" x2="71.8" y2="510.4" stroke="#cabb48" stroke-width="1.1" />
<line x1="77.0" y1="519.7" x2="78.8" y2="511.7" stroke="#cabb48" stroke-width="1.1" />
<line x1="84.0" y1="521.0" x2="85.8" y2="513.0" stroke="#cabb48" stroke-width="1.1" />
<line x1="91.0" y1="522.3" x2="92.8" y2="514.3" stroke="#cabb48" stroke-width="1.1" />
<line x1="98.0" y1="523.6" x2="99.8" y2="515.6" stroke="#cabb48" stroke-width="1.1" />
<line x1="105.0" y1="525.0" x2="106.8" y2="517.0" stroke="#cabb48" stroke-width="1.1" />
<line x1="112.0" y1="526.3" x2="113.8" y2="518.3" stroke="#cabb48" stroke-width="1.1" />
<line x1="119.0" y1="527.6" x2="120.8" y2="519.6" stroke="#cabb48" stroke-width="1.1" />
<line x1="126.0" y1="528.9" x2="127.8" y2="520.9" stroke="#cabb48" stroke-width="1.1" />
<line x1="133.0" y1="530.2" x2="134.8" y2="522.2" stroke="#cabb48" stroke-width="1.1" />
<line x1="140.0" y1="531.4" x2="141.8" y2="523.4" stroke="#cabb48" stroke-width="1.1" />
<line x1="147.0" y1="532.7" x2="148.8" y2="524.7" stroke="#cabb48" stroke-width="1.1" />
<line x1="154.0" y1="534.0" x2="155.8" y2="526.0" stroke="#cabb48" stroke-width="1.1" />
<line x1="161.0" y1="535.2" x2="162.8" y2="527.2" stroke="#cabb48" stroke-width="1.1" />
<line x1="8.0" y1="478.0" x2="14.0" y2="466.0" stroke="#cabb48" stroke-width="1" />
<line x1="10.0" y1="486.0" x2="16.0" y2="474.0" stroke="#cabb48" stroke-width="1" />
<line x1="8.0" y1="539.0" x2="171.0" y2="539.0" stroke="#7a7030" stroke-width="1.5" />
<line x1="26.3" y1="539.0" x2="26.3" y2="545.0" stroke="#cabb48" stroke-width="1" />
<line x1="32.6" y1="539.0" x2="32.6" y2="545.0" stroke="#cabb48" stroke-width="1" />
<line x1="38.9" y1="539.0" x2="38.9" y2="545.0" stroke="#cabb48" stroke-width="1" />
<line x1="45.3" y1="539.0" x2="45.3" y2="557.0" stroke="#cabb48" stroke-width="1.1" />
<line x1="51.6" y1="539.0" x2="51.6" y2="545.0" stroke="#cabb48" stroke-width="1" />
<line x1="57.9" y1="539.0" x2="57.9" y2="545.0" stroke="#cabb48" stroke-width="1" />
<line x1="64.2" y1="539.0" x2="64.2" y2="545.0" stroke="#cabb48" stroke-width="1" />
<line x1="70.6" y1="539.0" x2="70.6" y2="557.0" stroke="#cabb48" stroke-width="1.1" />
<line x1="76.9" y1="539.0" x2="76.9" y2="545.0" stroke="#cabb48" stroke-width="1" />
<line x1="83.2" y1="539.0" x2="83.2" y2="545.0" stroke="#cabb48" stroke-width="1" />
<line x1="89.5" y1="539.0" x2="89.5" y2="545.0" stroke="#cabb48" stroke-width="1" />
<line x1="95.9" y1="539.0" x2="95.9" y2="557.0" stroke="#cabb48" stroke-width="1.1" />
<line x1="102.2" y1="539.0" x2="102.2" y2="545.0" stroke="#cabb48" stroke-width="1" />
<line x1="108.5" y1="539.0" x2="108.5" y2="545.0" stroke="#cabb48" stroke-width="1" />
<line x1="114.8" y1="539.0" x2="114.8" y2="545.0" stroke="#cabb48" stroke-width="1" />
<line x1="121.2" y1="539.0" x2="121.2" y2="557.0" stroke="#cabb48" stroke-width="1.1" />
<line x1="127.5" y1="539.0" x2="127.5" y2="545.0" stroke="#cabb48" stroke-width="1" />
<line x1="133.8" y1="539.0" x2="133.8" y2="545.0" stroke="#cabb48" stroke-width="1" />
<line x1="140.1" y1="539.0" x2="140.1" y2="545.0" stroke="#cabb48" stroke-width="1" />
<line x1="146.5" y1="539.0" x2="146.5" y2="557.0" stroke="#cabb48" stroke-width="1.1" />
<line x1="152.8" y1="539.0" x2="152.8" y2="545.0" stroke="#cabb48" stroke-width="1" />
<line x1="159.1" y1="539.0" x2="159.1" y2="545.0" stroke="#cabb48" stroke-width="1" />
<line x1="165.4" y1="539.0" x2="165.4" y2="545.0" stroke="#cabb48" stroke-width="1" />
<g fill="none" stroke="#34c840" stroke-width="2.0" stroke-linecap="round" stroke-linejoin="round">
<path d="M64.2,591.2 Q66.4,594.8 63.1,597.4 M63.7,597.6 Q64.5,601.8 60.5,603.2 M60.2,602.9 Q59.6,607.1 55.3,607.0 M55.6,607.4 Q53.5,611.1 49.5,609.6 M49.5,609.7 Q46.2,612.5 42.9,609.7 M43.1,608.6 Q39.3,610.2 37.4,606.5 M37.4,606.4 Q33.3,606.6 32.7,602.5 M31.5,603.5 Q27.4,602.0 28.2,597.8 M29.2,597.4 Q26.0,594.8 28.1,591.2 M28.2,591.2 Q26.0,587.6 29.3,585.0 M27.9,584.5 Q27.2,580.2 31.3,578.7 M32.1,579.3 Q32.7,575.1 37.0,575.2 M36.6,574.6 Q38.8,570.8 42.9,572.3 M43.0,573.0 Q46.2,570.2 49.4,573.0 M49.5,572.7 Q53.5,571.2 55.6,574.9 M55.1,575.7 Q59.3,575.6 59.9,579.7 M60.6,579.1 Q64.6,580.6 63.9,584.8 M64.3,584.6 Q67.6,587.4 65.4,591.2"/>
<path d="M60.0,594.0 Q56.3,595.7 57.5,599.6 M55.7,601.5 Q51.7,600.8 50.4,604.6 M47.8,605.1 Q45.0,602.2 41.7,604.5 M39.3,603.4 Q38.8,599.4 34.7,599.3 M33.4,597.0 Q35.4,593.5 32.2,591.0 M32.4,588.4 Q36.1,586.7 34.9,582.8 M36.7,580.9 Q40.7,581.6 42.0,577.8 M44.6,577.3 Q47.4,580.2 50.7,577.9 M53.1,579.0 Q53.6,583.0 57.7,583.1 M59.0,585.4 Q57.0,588.9 60.2,591.4" stroke-width="1.4"/>
<path d="M46.2,591.2 Q50.4,582.4 48.9,573.5"/>
<line x1="47.8" y1="580.6" x2="43.7" y2="574.8" stroke-width="1.5"/>
<line x1="47.8" y1="580.6" x2="53.4" y2="576.3" stroke-width="1.5"/>
<path d="M46.2,591.2 Q55.4,588.0 60.6,580.6"/>
<line x1="54.8" y1="584.8" x2="56.0" y2="577.9" stroke-width="1.5"/>
<line x1="54.8" y1="584.8" x2="61.9" y2="585.7" stroke-width="1.5"/>
<path d="M46.2,591.2 Q55.0,595.4 63.9,593.9"/>
<line x1="56.8" y1="592.8" x2="62.6" y2="588.7" stroke-width="1.5"/>
<line x1="56.8" y1="592.8" x2="61.1" y2="598.4" stroke-width="1.5"/>
<path d="M46.2,591.2 Q49.4,600.4 56.8,605.6"/>
<line x1="52.6" y1="599.8" x2="59.5" y2="601.0" stroke-width="1.5"/>
<line x1="52.6" y1="599.8" x2="51.7" y2="606.9" stroke-width="1.5"/>
<path d="M46.2,591.2 Q42.0,600.0 43.5,608.9"/>
<line x1="44.6" y1="601.8" x2="48.7" y2="607.6" stroke-width="1.5"/>
<line x1="44.6" y1="601.8" x2="39.0" y2="606.1" stroke-width="1.5"/>
<path d="M46.2,591.2 Q37.0,594.4 31.8,601.8"/>
<line x1="37.6" y1="597.6" x2="36.4" y2="604.5" stroke-width="1.5"/>
<line x1="37.6" y1="597.6" x2="30.5" y2="596.7" stroke-width="1.5"/>
<path d="M46.2,591.2 Q37.4,587.0 28.5,588.5"/>
<line x1="35.6" y1="589.6" x2="29.8" y2="593.7" stroke-width="1.5"/>
<line x1="35.6" y1="589.6" x2="31.3" y2="584.0" stroke-width="1.5"/>
<path d="M46.2,591.2 Q43.0,582.0 35.6,576.8"/>
<line x1="39.8" y1="582.6" x2="32.9" y2="581.4" stroke-width="1.5"/>
<line x1="39.8" y1="582.6" x2="40.7" y2="575.5" stroke-width="1.5"/>
</g>
<g fill="none" stroke="#34c840" stroke-width="2.0" stroke-linecap="round" stroke-linejoin="round">
<path d="M24.3,522.0 Q26.5,525.6 23.2,528.3 M23.4,528.3 Q24.2,532.5 20.2,533.9 M20.3,534.0 Q19.6,538.2 15.3,538.1 M15.4,538.4 Q13.3,542.1 9.3,540.6 M9.2,540.2 Q6.0,543.0 2.8,540.2 M2.7,540.6 Q-1.3,542.1 -3.4,538.3 M-2.6,536.9 Q-6.6,537.1 -7.1,533.0 M-7.8,533.6 Q-11.7,532.2 -10.9,528.2 M-11.8,528.5 Q-15.1,525.7 -12.9,522.0 M-12.3,522.0 Q-14.5,518.4 -11.2,515.7 M-11.7,515.6 Q-12.5,511.3 -8.4,509.9 M-7.3,510.9 Q-6.7,506.8 -2.7,507.0 M-3.0,506.4 Q-1.0,502.7 2.9,504.3 M2.9,504.7 Q6.0,501.9 9.1,504.7 M9.1,504.1 Q13.1,502.6 15.1,506.3 M15.1,506.2 Q19.3,506.2 19.9,510.3 M19.1,511.0 Q23.0,512.2 22.1,516.1 M22.5,516.0 Q25.7,518.5 23.5,522.0"/>
<path d="M19.4,524.7 Q15.8,526.4 17.0,530.2 M15.2,532.1 Q11.3,531.3 10.1,535.1 M7.6,535.6 Q4.9,532.6 1.6,535.0 M-0.7,533.9 Q-1.2,529.9 -5.2,529.9 M-6.4,527.7 Q-4.4,524.2 -7.7,521.8 M-7.4,519.3 Q-3.8,517.6 -5.0,513.8 M-3.2,511.9 Q0.7,512.7 1.9,508.9 M4.4,508.4 Q7.1,511.4 10.4,509.0 M12.7,510.1 Q13.2,514.1 17.2,514.1 M18.4,516.3 Q16.4,519.8 19.7,522.2" stroke-width="1.4"/>
<path d="M6.0,522.0 Q10.1,513.4 8.6,504.7"/>
<line x1="7.6" y1="511.7" x2="3.6" y2="506.0" stroke-width="1.5"/>
<line x1="7.6" y1="511.7" x2="13.0" y2="507.5" stroke-width="1.5"/>
<path d="M6.0,522.0 Q15.0,518.9 20.1,511.6"/>
<line x1="14.4" y1="515.8" x2="15.6" y2="509.0" stroke-width="1.5"/>
<line x1="14.4" y1="515.8" x2="21.3" y2="516.7" stroke-width="1.5"/>
<path d="M6.0,522.0 Q14.6,526.1 23.3,524.6"/>
<line x1="16.3" y1="523.6" x2="22.0" y2="519.6" stroke-width="1.5"/>
<line x1="16.3" y1="523.6" x2="20.5" y2="529.0" stroke-width="1.5"/>
<path d="M6.0,522.0 Q9.1,531.0 16.4,536.1"/>
<line x1="12.2" y1="530.4" x2="19.0" y2="531.6" stroke-width="1.5"/>
<line x1="12.2" y1="530.4" x2="11.3" y2="537.3" stroke-width="1.5"/>
<path d="M6.0,522.0 Q1.9,530.6 3.4,539.3"/>
<line x1="4.4" y1="532.3" x2="8.4" y2="538.0" stroke-width="1.5"/>
<line x1="4.4" y1="532.3" x2="-1.0" y2="536.5" stroke-width="1.5"/>
<path d="M6.0,522.0 Q-3.0,525.1 -8.1,532.4"/>
<line x1="-2.4" y1="528.2" x2="-3.6" y2="535.0" stroke-width="1.5"/>
<line x1="-2.4" y1="528.2" x2="-9.3" y2="527.3" stroke-width="1.5"/>
<path d="M6.0,522.0 Q-2.6,517.9 -11.3,519.4"/>
<line x1="-4.3" y1="520.4" x2="-10.0" y2="524.4" stroke-width="1.5"/>
<line x1="-4.3" y1="520.4" x2="-8.5" y2="515.0" stroke-width="1.5"/>
<path d="M6.0,522.0 Q2.9,513.0 -4.4,507.9"/>
<line x1="-0.2" y1="513.6" x2="-7.0" y2="512.4" stroke-width="1.5"/>
<line x1="-0.2" y1="513.6" x2="0.7" y2="506.7" stroke-width="1.5"/>
</g>
<polyline points="8.0,595.8 223.0,595.8 223.0,573.8" fill="none" stroke="#1a1a1a" stroke-width="1.3" />
<polyline points="8.0,600.0 229.0,600.0 229.0,560.0" fill="none" stroke="#1a1a1a" stroke-width="1.3" />
<line x1="428.3" y1="558.0" x2="428.3" y2="583.3" stroke="#1a1a1a" stroke-width="1.2" />
<line x1="428.3" y1="578.5" x2="792.0" y2="582.0" stroke="#1a1a1a" stroke-width="1.3" />
<line x1="428.3" y1="583.3" x2="792.0" y2="586.0" stroke="#1a1a1a" stroke-width="1.3" />
<line x1="792.0" y1="556.0" x2="792.0" y2="586.0" stroke="#1a1a1a" stroke-width="1.2" />
<path d="M866.8,556 L866.8,590 Q868,605.5 888,605.5 L1187,605.5" fill="none" stroke="#1a1a1a" stroke-width="1.3"/>
<path d="M869.8,556 L869.8,588 Q871,602.7 890,602.7 L1187,602.7" fill="none" stroke="#555" stroke-width="1.3" stroke-dasharray="11,5"/>
<line x1="850.0" y1="592.4" x2="866.8" y2="592.4" stroke="#1a1a1a" stroke-width="1.2" />
<line x1="430.0" y1="565.0" x2="437.0" y2="565.0" stroke="#cabb48" stroke-width="1" />
<line x1="430.0" y1="571.0" x2="437.0" y2="571.0" stroke="#cabb48" stroke-width="1" />
<line x1="430.0" y1="577.0" x2="437.0" y2="577.0" stroke="#cabb48" stroke-width="1" />
<line x1="430.0" y1="560.0" x2="455.0" y2="561.0" stroke="#cabb48" stroke-width="1" />
<g transform="rotate(1.5 510 596)"><rect x="494" y="586" width="33" height="20" fill="none" stroke="#46b050" stroke-width="1.2"/><line x1="511" y1="586" x2="511" y2="606" stroke="#46b050" stroke-width="1.2"/></g>
<path d="M222,561 Q226,551 234,552 Q241,554 240,566 L239,588" fill="none" stroke="#d02828" stroke-width="1.3"/>
<circle cx="239.3" cy="590.5" r="2.3" fill="none" stroke="#d02828" stroke-width="1.2"/>
<polygon points="218.0,559.0 224.0,556.0 225.0,562.0" fill="#d02828" />
<path d="M867.5,534.5 Q872,525 878,527 Q883,529 882.5,542 L881.5,563" fill="none" stroke="#d04020" stroke-width="1.3"/>
<circle cx="881.3" cy="565.5" r="2.2" fill="none" stroke="#d04020" stroke-width="1.2"/>
<circle cx="867" cy="534.5" r="2.8" fill="none" stroke="#d04020" stroke-width="1.3"/>
<polygon points="862.0,535.0 867.0,531.0 867.0,538.0" fill="#d04020" />
<line x1="255.4" y1="215.3" x2="253.5" y2="273.0" stroke="#c83040" stroke-width="1.2" />
<rect x="249.0" y="273.0" width="9" height="9" fill="none" stroke="#c83040" stroke-width="1.3"/>
<line x1="249.0" y1="273.0" x2="258.0" y2="282.0" stroke="#c83040" stroke-width="1" />
<line x1="258.0" y1="273.0" x2="249.0" y2="282.0" stroke="#c83040" stroke-width="1" />
<line x1="236.7" y1="221.0" x2="274.0" y2="209.6" stroke="#c83040" stroke-width="1.2" />
<line x1="236.7" y1="225.0" x2="274.0" y2="213.6" stroke="#c83040" stroke-width="1.2" />
<line x1="236.7" y1="221.0" x2="236.7" y2="229.0" stroke="#c83040" stroke-width="1.2" />
<line x1="274.0" y1="205.6" x2="274.0" y2="213.6" stroke="#c83040" stroke-width="1.2" />
<line x1="1061.5" y1="249.5" x2="1059.2" y2="308.0" stroke="#c83040" stroke-width="1.2" />
<rect x="1054.3" y="308.0" width="9" height="9" fill="none" stroke="#c83040" stroke-width="1.3"/>
<line x1="1054.3" y1="308.0" x2="1063.3" y2="317.0" stroke="#c83040" stroke-width="1" />
<line x1="1063.3" y1="308.0" x2="1054.3" y2="317.0" stroke="#c83040" stroke-width="1" />
<line x1="1042.7" y1="255.5" x2="1081.0" y2="245.0" stroke="#c83040" stroke-width="1.2" />
<line x1="1042.7" y1="259.5" x2="1081.0" y2="249.0" stroke="#c83040" stroke-width="1.2" />
<line x1="1042.7" y1="255.5" x2="1042.7" y2="263.5" stroke="#c83040" stroke-width="1.2" />
<line x1="1081.0" y1="241.0" x2="1081.0" y2="249.0" stroke="#c83040" stroke-width="1.2" />
<text x="39.40" y="300.60" font-family='"Liberation Mono", monospace' font-size="24.50" font-weight="normal" fill="#3520b8" stroke="#3520b8" stroke-width="0.2" textLength="66.60" lengthAdjust="spacingAndGlyphs">68000</text>
<line x1="69.77" y1="297.26" x2="75.63" y2="287.24" stroke="#3520b8" stroke-width="1.6"/>
<line x1="83.09" y1="297.26" x2="88.95" y2="287.24" stroke="#3520b8" stroke-width="1.6"/>
<line x1="96.41" y1="297.26" x2="102.27" y2="287.24" stroke="#3520b8" stroke-width="1.6"/>
<text x="133.20" y="300.70" font-family='"Liberation Mono", monospace' font-size="24.50" font-weight="normal" fill="#3520b8" stroke="#3520b8" stroke-width="0.2" textLength="117.20" lengthAdjust="spacingAndGlyphs">viabilisé</text>
<text x="509.80" y="245.10" font-family='"Liberation Mono", monospace' font-size="21.80" font-weight="normal" fill="#3520b8" stroke="#3520b8" stroke-width="0.2" textLength="60.20" lengthAdjust="spacingAndGlyphs">63000</text>
<line x1="537.25" y1="242.02" x2="542.55" y2="232.78" stroke="#3520b8" stroke-width="1.6"/>
<line x1="549.29" y1="242.02" x2="554.59" y2="232.78" stroke="#3520b8" stroke-width="1.6"/>
<line x1="561.33" y1="242.02" x2="566.63" y2="232.78" stroke="#3520b8" stroke-width="1.6"/>
<text x="581.80" y="245.10" font-family='"Liberation Mono", monospace' font-size="21.80" font-weight="normal" fill="#3520b8" stroke="#3520b8" stroke-width="0.2" textLength="108.60" lengthAdjust="spacingAndGlyphs">viabilisé</text>
<text x="724.00" y="245.80" font-family='"Liberation Mono", monospace' font-size="21.80" font-weight="normal" fill="#3520b8" stroke="#3520b8" stroke-width="0.2" textLength="59.75" lengthAdjust="spacingAndGlyphs">63000</text>
<line x1="751.25" y1="242.88" x2="756.50" y2="234.12" stroke="#3520b8" stroke-width="1.6"/>
<line x1="763.20" y1="242.88" x2="768.45" y2="234.12" stroke="#3520b8" stroke-width="1.6"/>
<line x1="775.15" y1="242.88" x2="780.40" y2="234.12" stroke="#3520b8" stroke-width="1.6"/>
<text x="796.00" y="245.80" font-family='"Liberation Mono", monospace' font-size="21.80" font-weight="normal" fill="#3520b8" stroke="#3520b8" stroke-width="0.2" textLength="108.50" lengthAdjust="spacingAndGlyphs">viabilise</text>
<text x="340.70" y="297.30" font-family='"Liberation Mono", monospace' font-size="29.79" font-weight="normal" fill="#cc1a1e" stroke="#cc1a1e" stroke-width="0.5" textLength="104.60" lengthAdjust="spacingAndGlyphs">option</text>
<text x="1019.70" y="300.00" font-family='"Liberation Mono", monospace' font-size="20.74" font-weight="normal" fill="#141414" stroke="#141414" stroke-width="0.3" textLength="72.00" lengthAdjust="spacingAndGlyphs">option</text>
<text x="234.30" y="614.30" font-family='"Liberation Sans", sans-serif' font-size="14.30" font-weight="normal" fill="#161616" stroke="#161616" stroke-width="0.5" textLength="68.10" lengthAdjust="spacingAndGlyphs">Vers réseaux</text>
<text x="243.00" y="626.70" font-family='"Liberation Sans", sans-serif' font-size="12.90" font-weight="normal" fill="#161616" stroke="#161616" stroke-width="0.5" textLength="47.10" lengthAdjust="spacingAndGlyphs">existants</text>
<text x="376.00" y="618.70" font-family='"Liberation Sans", sans-serif' font-size="14.30" font-weight="normal" fill="#161616" stroke="#161616" stroke-width="0.5" textLength="66.90" lengthAdjust="spacingAndGlyphs">Vers réseaux</text>
<text x="385.00" y="629.70" font-family='"Liberation Sans", sans-serif' font-size="12.90" font-weight="normal" fill="#161616" stroke="#161616" stroke-width="0.5" textLength="45.90" lengthAdjust="spacingAndGlyphs">existants</text>
<text x="600.70" y="613.30" font-family='"Liberation Sans", sans-serif' font-size="14.30" font-weight="normal" fill="#161616" stroke="#161616" stroke-width="0.5" textLength="66.90" lengthAdjust="spacingAndGlyphs">Vers réseaux</text>
<text x="609.30" y="624.70" font-family='"Liberation Sans", sans-serif' font-size="12.90" font-weight="normal" fill="#161616" stroke="#161616" stroke-width="0.5" textLength="47.10" lengthAdjust="spacingAndGlyphs">existants</text>
<text x="788.70" y="596.00" font-family='"Liberation Sans", sans-serif' font-size="14.30" font-weight="normal" fill="#161616" stroke="#161616" stroke-width="0.5" textLength="66.90" lengthAdjust="spacingAndGlyphs">Vers réseaux</text>
<text x="798.00" y="608.70" font-family='"Liberation Sans", sans-serif' font-size="12.90" font-weight="normal" fill="#161616" stroke="#161616" stroke-width="0.5" textLength="45.90" lengthAdjust="spacingAndGlyphs">existants</text>
<text x="1118.30" y="594.00" font-family='"Liberation Sans", sans-serif' font-size="14.30" font-weight="normal" fill="#161616" stroke="#161616" stroke-width="0.5" textLength="68.10" lengthAdjust="spacingAndGlyphs">Vers réseaux</text>
<text x="1126.70" y="608.00" font-family='"Liberation Sans", sans-serif' font-size="12.90" font-weight="normal" fill="#161616" stroke="#161616" stroke-width="0.5" textLength="45.90" lengthAdjust="spacingAndGlyphs">existants</text>
<text x="480.25" y="573.50" font-family='"Liberation Sans", sans-serif' font-size="14.20" font-weight="normal" fill="#6e6e6e" stroke="#6e6e6e" stroke-width="0.2" textLength="35.25" lengthAdjust="spacingAndGlyphs">Fossé</text>
<text x="697.80" y="573.70" font-family='"Liberation Sans", sans-serif' font-size="14.20" font-weight="normal" fill="#6e6e6e" stroke="#6e6e6e" stroke-width="0.2" textLength="34.60" lengthAdjust="spacingAndGlyphs">Fossé</text>
<text x="340.80" y="229.00" font-family='"Liberation Serif", serif' font-size="14.29" font-weight="bold" fill="#48d6d6" textLength="46.70" lengthAdjust="spacingAndGlyphs">AS 243</text>
<text x="733.4" y="384.7" font-family='"Liberation Serif", serif' font-size="13.0" fill="#40d8b0" font-weight="bold" textLength="38.0" lengthAdjust="spacingAndGlyphs" font-style="italic">AS 63</text>
<line x1="733.0" y1="385.0" x2="771.0" y2="373.0" stroke="#30d060" stroke-width="1.6" />
<circle cx="1075" cy="597" r="2.8" fill="none" stroke="#b060e0" stroke-width="1.5"/>
<path d="M1046,609 l4,4 l-3,3 l4,2" fill="none" stroke="#2a7ee0" stroke-width="1.3"/>
<polygon points="118.2,587.4 132.0,609.3 125.2,609.3 125.2,628.2 114.8,628.2 114.8,609.3 107.0,609.3" fill="#f4f0ea" stroke="#1a1a1a" stroke-width="1.5" stroke-linejoin="miter"/>
<polygon points="121.4,584.6 135.2,606.5 128.4,606.5 128.4,625.4 118.0,625.4 118.0,606.5 110.2,606.5" fill="#f27a16" stroke="#1a1a1a" stroke-width="1.5" stroke-linejoin="miter"/>
<polygon points="322.8,576.2 337.2,598.0 329.6,598.0 329.6,616.6 320.0,616.6 320.0,598.0 312.0,598.0" fill="#f4f0ea" stroke="#1a1a1a" stroke-width="1.5" stroke-linejoin="miter"/>
<polygon points="326.0,573.4 340.4,595.2 332.8,595.2 332.8,613.8 323.2,613.8 323.2,595.2 315.2,595.2" fill="#f27a16" stroke="#1a1a1a" stroke-width="1.5" stroke-linejoin="miter"/>
<polygon points="686.4,581.5 700.5,603.8 693.5,603.8 693.5,622.4 684.3,622.4 684.3,603.8 676.0,603.8" fill="#f4f0ea" stroke="#1a1a1a" stroke-width="1.5" stroke-linejoin="miter"/>
<polygon points="689.6,578.8 703.8,601.0 696.7,601.0 696.7,619.6 687.5,619.6 687.5,601.0 679.2,601.0" fill="#f27a16" stroke="#1a1a1a" stroke-width="1.5" stroke-linejoin="miter"/>
<polygon points="741.8,581.5 755.5,603.8 748.5,603.8 748.5,622.4 739.7,622.4 739.7,603.8 731.8,603.8" fill="#f4f0ea" stroke="#1a1a1a" stroke-width="1.5" stroke-linejoin="miter"/>
<polygon points="745.0,578.8 758.8,601.0 751.7,601.0 751.7,619.6 742.9,619.6 742.9,601.0 735.0,601.0" fill="#f27a16" stroke="#1a1a1a" stroke-width="1.5" stroke-linejoin="miter"/>
<polygon points="949.5,575.4 963.8,597.3 956.5,597.3 956.5,615.7 947.0,615.7 947.0,597.3 938.7,597.3" fill="#f4f0ea" stroke="#1a1a1a" stroke-width="1.5" stroke-linejoin="miter"/>
<polygon points="952.8,572.6 967.0,594.5 959.7,594.5 959.7,612.9 950.2,612.9 950.2,594.5 941.9,594.5" fill="#f27a16" stroke="#1a1a1a" stroke-width="1.5" stroke-linejoin="miter"/>
<polygon points="72.0,631.0 100.0,623.0 100.0,631.0" fill="#cfcfcf" />
</g>
<rect x="1188" y="203" width="12" height="427" fill="#f6f6f6"/>
<rect x="1191" y="203" width="6.5" height="382" fill="#bebebe"/>
<line x1="8.0" y1="202.5" x2="24.0" y2="202.5" stroke="#bdbdbd" stroke-width="1.5" />
</svg></body></html>
